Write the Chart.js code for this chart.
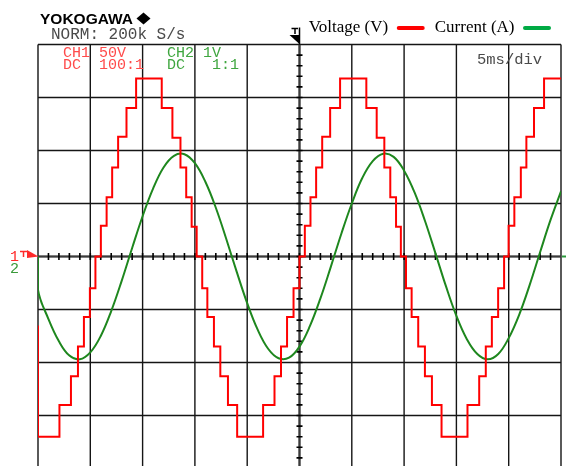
<!DOCTYPE html>
<html>
<head>
<meta charset="utf-8">
<script src="https://cdn.jsdelivr.net/npm/chart.js@4.4.0/dist/chart.umd.min.js"></script>
<style>
  html, body { margin: 0; padding: 0; background: #fff; overflow: hidden; }
  canvas { display: block; }
</style>
</head>
<body>
<canvas id="scope" width="566" height="470"></canvas>
<script>
// screen divisions: 5 ms/div in time, CH1 50 V/div, CH2 1 V/div
const timeDivs = [0, 5, 10, 15, 20, 25, 30, 35, 40, 45, 50];
const voltDivs = [-200, -150, -100, -50, 0, 50, 100, 150, 200];

// CH1 staircase voltage: switching instants (ms) and the level held after each (V)
const voltTimes = [0, 0, 2.05, 3.15, 3.82, 4.39, 4.96, 5.49, 6.01, 6.56, 7.09, 7.66, 8.46, 9.38,
  11.83, 12.85, 13.62, 14.17, 14.69, 15.17, 15.70, 16.19, 16.82, 17.43, 18.16, 19.04,
  21.52, 22.61, 23.23, 23.81, 24.43, 25.00, 25.51, 26.05, 26.59, 27.17, 27.93, 28.88,
  31.39, 32.38, 33.11, 33.68, 34.23, 34.69, 35.18, 35.72, 36.35, 36.99, 37.66, 38.58,
  41.06, 42.18, 42.81, 43.39, 43.99, 44.56, 44.99, 45.54, 46.16, 46.69, 47.42, 48.38, 50];
const voltValues = [-65, -170, -140, -113, -85, -57, -30, 0, 29, 56, 84, 113, 140, 168,
  140, 112, 84, 56, 28, 0, -30, -57, -85, -113, -140, -170,
  -140, -113, -85, -57, -30, 0, 29, 56, 84, 113, 140, 168,
  140, 112, 84, 56, 28, 0, -30, -57, -85, -113, -140, -170,
  -140, -113, -85, -57, -30, 0, 29, 56, 84, 113, 140, 168, 168];

// CH2 current trace, read every 1 ms
const currTimes = [0, 0, 1, 2, 3, 4, 5, 6, 7, 8, 9, 10, 11, 12, 13, 14, 15, 16, 17, 18, 19, 20,
  21, 22, 23, 24, 25, 26, 27, 28, 29, 30, 31, 32, 33, 34, 35, 36, 37, 38, 39, 40,
  41, 42, 43, 44, 45, 46, 47, 48, 49, 50];
const currValues = [0, -0.63, -1.18, -1.60, -1.87, -1.94, -1.81, -1.50, -1.03, -0.46, 0.16, 0.76,
  1.28, 1.68, 1.90, 1.93, 1.76, 1.41, 0.92, 0.33, -0.29, -0.88,
  -1.38, -1.74, -1.92, -1.91, -1.70, -1.31, -0.79, -0.19, 0.43, 1.00,
  1.48, 1.80, 1.94, 1.88, 1.62, 1.21, 0.67, 0.06, -0.56, -1.12,
  -1.56, -1.84, -1.94, -1.84, -1.54, -1.10, -0.54, 0.08, 0.69, 1.23];

const toPoints = (xs, ys) => xs.map((x, i) => ({ x: x, y: ys[i] }));

// graticule, centre ticks and the scope's screen text
const scopeScreen = {
  id: 'scopeScreen',
  beforeDatasetsDraw(chart) {
    const { ctx, chartArea: a, scales: { x, y } } = chart;
    ctx.save();
    ctx.strokeStyle = '#151515';
    ctx.lineWidth = 1.4;
    ctx.beginPath();
    timeDivs.forEach(t => {
      const px = x.getPixelForValue(t);
      ctx.moveTo(px, a.top);
      ctx.lineTo(px, a.bottom);
    });
    voltDivs.forEach(v => {
      const py = y.getPixelForValue(v);
      ctx.moveTo(a.left, py);
      ctx.lineTo(a.right, py);
    });
    ctx.stroke();

    const cx = x.getPixelForValue(25);
    const cy = y.getPixelForValue(0);
    ctx.strokeStyle = '#3c3c3c';
    ctx.lineWidth = 2.2;
    ctx.beginPath();
    ctx.moveTo(a.left, cy); ctx.lineTo(a.right, cy);
    ctx.moveTo(cx, a.top); ctx.lineTo(cx, a.bottom);
    ctx.stroke();

    ctx.strokeStyle = '#000';
    ctx.lineWidth = 1.6;
    ctx.beginPath();
    for (let t = 1; t < 50; t++) {
      const px = x.getPixelForValue(t);
      ctx.moveTo(px, cy - 3.5); ctx.lineTo(px, cy + 3.5);
    }
    for (let v = -190; v < 200; v += 10) {
      const py = y.getPixelForValue(v);
      ctx.moveTo(cx - 3, py); ctx.lineTo(cx + 3, py);
    }
    ctx.stroke();
    ctx.restore();
  },
  afterDraw(chart) {
    const { ctx, chartArea: a, scales: { x, y } } = chart;
    const cy = y.getPixelForValue(0);
    const cx = x.getPixelForValue(25);
    ctx.save();
    ctx.textBaseline = 'alphabetic';
    ctx.textAlign = 'left';

    ctx.fillStyle = '#000';
    ctx.font = "bold 15.5px 'Liberation Sans', Arial, sans-serif";
    ctx.fillText('YOKOGAWA', 40, 24);
    ctx.beginPath();
    ctx.moveTo(143.5, 12.5); ctx.lineTo(150.5, 18.5); ctx.lineTo(143.5, 24.5); ctx.lineTo(136.5, 18.5);
    ctx.closePath();
    ctx.fill();

    ctx.fillStyle = '#4a4a4a';
    ctx.font = "16px 'Liberation Mono', 'Courier New', monospace";
    ctx.fillText('NORM: 200k S/s', 51, 38.5);

    ctx.font = "15px 'Liberation Mono', 'Courier New', monospace";
    ctx.fillStyle = '#ff4a4a';
    ctx.fillText('CH1 50V', 63, 57);
    ctx.fillText('DC  100:1', 63, 69);
    ctx.fillStyle = '#3fa63f';
    ctx.fillText('CH2 1V', 167, 57);
    ctx.fillText('DC   1:1', 167, 69);

    ctx.fillStyle = '#4a4a4a';
    ctx.font = "15.5px 'Liberation Mono', 'Courier New', monospace";
    ctx.fillText('5ms/div', 477, 64);

    // channel ground markers on the left
    ctx.font = "15px 'Liberation Mono', 'Courier New', monospace";
    ctx.fillStyle = '#ff2a2a';
    ctx.fillText('1', 10, cy + 4.5);
    ctx.strokeStyle = '#ff2a2a';
    ctx.lineWidth = 1.5;
    ctx.beginPath();
    ctx.moveTo(20, cy - 5); ctx.lineTo(27, cy - 5);
    ctx.moveTo(23.5, cy - 5); ctx.lineTo(23.5, cy + 0.5);
    ctx.stroke();
    ctx.beginPath();
    ctx.moveTo(27, cy - 6.5); ctx.lineTo(a.left + 0.5, cy); ctx.lineTo(27, cy + 1.5);
    ctx.closePath();
    ctx.fill();
    ctx.fillStyle = '#3a9a3a';
    ctx.fillText('2', 10, cy + 16.5);
    ctx.strokeStyle = '#2a9a3a';
    ctx.lineWidth = 2;
    ctx.beginPath();
    ctx.moveTo(a.right + 1, cy); ctx.lineTo(566, cy);
    ctx.stroke();

    // trigger position marker
    ctx.strokeStyle = '#000';
    ctx.fillStyle = '#000';
    ctx.lineWidth = 1.5;
    ctx.beginPath();
    ctx.moveTo(cx - 8, 28.5); ctx.lineTo(cx - 1.5, 28.5);
    ctx.moveTo(cx - 4.5, 28.5); ctx.lineTo(cx - 4.5, 34);
    ctx.moveTo(cx, 27.5); ctx.lineTo(cx, a.top);
    ctx.stroke();
    ctx.beginPath();
    ctx.moveTo(cx - 10, 35); ctx.lineTo(cx + 0.5, 35); ctx.lineTo(cx + 0.5, a.top);
    ctx.closePath();
    ctx.fill();
    ctx.restore();
  }
};

const ctx = document.getElementById('scope').getContext('2d');

new Chart(ctx, {
  type: 'line',
  data: {
    datasets: [{
      label: 'Voltage (V)',
      data: toPoints(voltTimes, voltValues),
      yAxisID: 'y',
      borderColor: '#ff0000',
      backgroundColor: '#ff0000',
      borderWidth: 2,
      pointRadius: 0,
      stepped: true,
      fill: false
    }, {
      label: 'Current (A)',
      data: toPoints(currTimes, currValues),
      yAxisID: 'y2',
      borderColor: '#1e871e',
      backgroundColor: '#00aa44',
      borderWidth: 2,
      pointRadius: 0,
      tension: 0.4,
      fill: false
    }]
  },
  options: {
    responsive: false,
    animation: false,
    events: [],
    layout: { padding: { left: 38, right: 5, top: 9.5, bottom: 1.5 } },
    scales: {
      x: { type: 'linear', min: 0, max: 50, display: false },
      y: { min: -200, max: 200, display: false },
      y2: { min: -4, max: 4, display: false }
    },
    plugins: {
      tooltip: { enabled: false },
      legend: {
        position: 'top',
        align: 'start',
        rtl: true,
        reverse: true,
        textDirection: 'ltr',
        maxHeight: 35,
        labels: {
          font: { family: "'Liberation Serif', 'Times New Roman', serif", size: 17 },
          color: '#000',
          boxWidth: 28,
          boxHeight: 4,
          padding: 10,
          useBorderRadius: true,
          borderRadius: 2,
          generateLabels: chart => Chart.defaults.plugins.legend.labels.generateLabels(chart)
            .map(item => Object.assign(item, { lineWidth: 0 }))
        }
      }
    }
  },
  plugins: [scopeScreen]
});
</script>
</body>
</html>
